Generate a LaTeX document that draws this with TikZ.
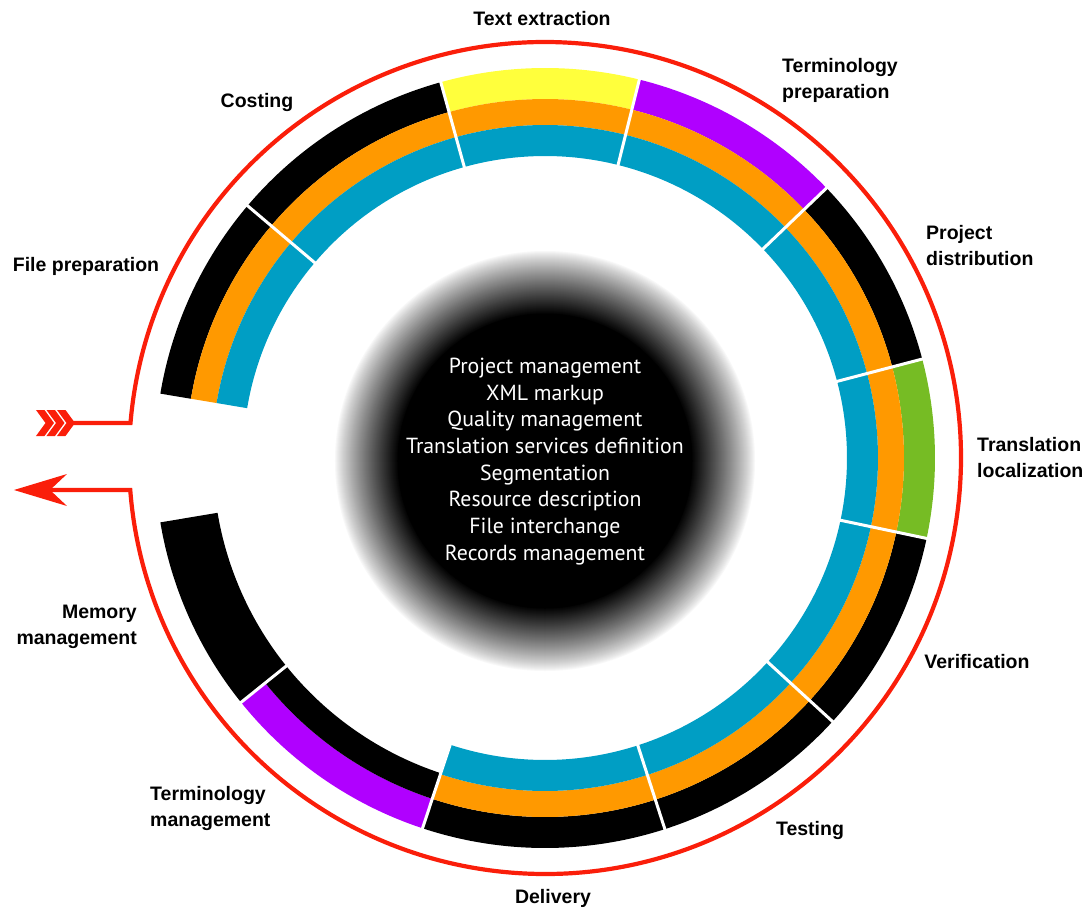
\documentclass[tikz,border=0pt]{standalone}
\usepackage{fontspec}
\setmainfont{Liberation Sans}
\newfontfamily\labelfont{Liberation Sans}
\newfontfamily\centerfont{PT Sans}
\usetikzlibrary{arrows.meta}
\definecolor{ringorange}{RGB}{255,153,0}
\definecolor{ringblue}{RGB}{0,158,196}
\definecolor{ringyellow}{RGB}{255,255,60}
\definecolor{ringpurple}{RGB}{176,0,255}
\definecolor{ringgreen}{RGB}{118,188,36}
\definecolor{cyclered}{RGB}{250,30,10}
% color, start angle, end angle, outer radius, inner radius
\newcommand{\ringseg}[5]{%
  \fill[#1] (#2:#4) arc[start angle=#2, end angle=#3, radius=#4] -- (#3:#5) arc[start angle=#3, end angle=#2, radius=#5] -- cycle;}
\tikzset{
  lbl/.style={font=\labelfont\bfseries\fontsize{19.5}{26}\selectfont, text=black, inner sep=0pt},
  corelbl/.style={font=\centerfont\fontsize{21.8}{26.7}\selectfont, text=white, align=center, inner sep=0pt},
  sep/.style={white, line width=3pt},
  cycleline/.style={cyclered, line width=4.2pt}
}
\begin{document}
\begin{tikzpicture}[x=1pt,y=1pt]
\useasboundingbox (-545,-453) rectangle (546,458);
% central fading disk
\foreach \i in {0,...,64}{
  \pgfmathsetmacro{\rr}{211-\i}
  \pgfmathsetmacro{\pp}{100*(\i/64)^0.85}
  \fill[black!\pp!white] (0,-3) circle (\rr);
}
\fill[black] (0,-3) circle (147);
% outer band (359-390), middle (333-359), inner (302-333)
% File preparation
\ringseg{black}{139.7}{170.5}{390}{359}
\ringseg{ringorange}{139.7}{170.5}{359}{333}
\ringseg{ringblue}{139.7}{170.5}{333}{302}
% Costing
\ringseg{black}{105.5}{139.7}{390}{359}
\ringseg{ringorange}{105.5}{139.7}{359}{333}
\ringseg{ringblue}{105.5}{139.7}{333}{302}
% Text extraction
\ringseg{ringyellow}{76}{105.5}{390}{359}
\ringseg{ringorange}{76}{105.5}{359}{333}
\ringseg{ringblue}{76}{105.5}{333}{302}
% Terminology preparation
\ringseg{ringpurple}{43.8}{76}{390}{359}
\ringseg{ringorange}{43.8}{76}{359}{333}
\ringseg{ringblue}{43.8}{76}{333}{302}
% Project distribution
\ringseg{black}{14.7}{43.8}{390}{359}
\ringseg{ringorange}{14.7}{43.8}{359}{333}
\ringseg{ringblue}{14.7}{43.8}{333}{302}
% Translation localization
\ringseg{ringgreen}{-11.9}{14.7}{390}{359}
\ringseg{ringorange}{-11.9}{14.7}{359}{333}
\ringseg{ringblue}{-11.9}{14.7}{333}{302}
% Verification
\ringseg{black}{-42.5}{-11.9}{390}{359}
\ringseg{ringorange}{-42.5}{-11.9}{359}{333}
\ringseg{ringblue}{-42.5}{-11.9}{333}{302}
% Testing
\ringseg{black}{-72.1}{-42.5}{390}{359}
\ringseg{ringorange}{-72.1}{-42.5}{359}{333}
\ringseg{ringblue}{-72.1}{-42.5}{333}{302}
% Delivery
\ringseg{black}{-108.3}{-72.1}{390}{359}
\ringseg{ringorange}{-108.3}{-72.1}{359}{333}
\ringseg{ringblue}{-108.3}{-72.1}{333}{302}
% Terminology management
\ringseg{ringpurple}{-141.2}{-108.3}{390}{359}
\ringseg{black}{-141.2}{-108.3}{359}{332}
% Memory management
\ringseg{black}{-170.5}{-141.2}{390}{332}
% white separators
\foreach \a in {139.7,105.5,76,43.8,14.7,-11.9,-42.5,-72.1,-108.3,-141.2}
  \draw[sep] (\a:298) -- (\a:394);
% red cycle with entry and exit
\coordinate (inshaft) at (-476,35);
\coordinate (outnotch) at (-495,-32);
\draw[cycleline] (inshaft) -- (175.17:416) arc[start angle=175.17, end angle=-175.59, radius=416] -- (outnotch);
% fletching of entry
\foreach \k in {0,1,2}{
  \pgfmathsetmacro{\xo}{-509+10.5*\k}
  \fill[cyclered] (\xo,48) -- (\xo+8.5,48) -- (\xo+18,35) -- (\xo+8.5,22) -- (\xo,22) -- (\xo+9.5,35) -- cycle;
}
% exit arrowhead
\fill[cyclered] (-531,-32) -- (-478,-16) -- (-495,-32) -- (-478,-48) -- cycle;
% labels
\node[lbl] (textext) at (-3,439) {Text extraction};
\node[lbl] (costing) at (-288,355) {Costing};
\node[lbl, align=left, anchor=west] (termprep) at (237,378) {Terminology\\preparation};
\node[lbl, align=left, anchor=west] (projdist) at (381,212) {Project\\distribution};
\node[lbl, align=left, anchor=west] (transl) at (432,0) {Translation\\localization};
\node[lbl] (verif) at (432,-204) {Verification};
\node[lbl] (testing) at (265,-372) {Testing};
\node[lbl] (delivery) at (8,-440) {Delivery};
\node[lbl, align=left, anchor=west] (termmgmt) at (-395,-350) {Terminology\\management};
\node[lbl, align=right, anchor=east] (memory) at (-408,-169) {Memory\\management};
\node[lbl] (fileprep) at (-459,192) {File preparation};
\node[corelbl] (core) at (0,-3.5) {Project management\\XML markup\\Quality management\\Translation services definition\\Segmentation\\Resource description\\File interchange\\Records management};
\end{tikzpicture}
\end{document}
